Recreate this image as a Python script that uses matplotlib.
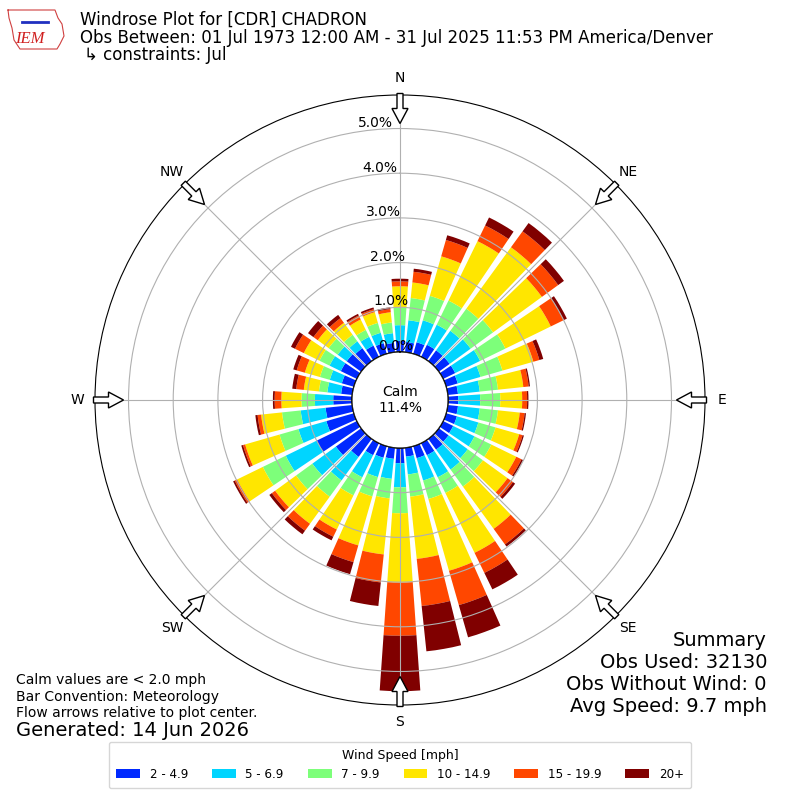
import numpy as np
import matplotlib
matplotlib.use("Agg")
import matplotlib.pyplot as plt
from matplotlib import patches
from matplotlib.lines import Line2D

# ---------------- data (percent of observations) ----------------
directions = np.arange(0, 360, 10)
speed_bins = ["2 - 4.9", "5 - 6.9", "7 - 9.9", "10 - 14.9", "15 - 19.9", "20+"]
spd_2_5 = [0.25, 0.23, 0.27, 0.30, 0.30, 0.30, 0.30, 0.27, 0.23, 0.23, 0.23, 0.25,
           0.25, 0.27, 0.30, 0.30, 0.28, 0.20, 0.34, 0.25, 0.27, 0.30, 0.50, 0.70,
           1.00, 0.64, 0.60, 0.42, 0.25, 0.28, 0.40, 0.40, 0.36, 0.28, 0.25, 0.21]
spd_5_7 = [0.35, 0.49, 0.51, 0.50, 0.54, 0.58, 0.62, 0.53, 0.49, 0.49, 0.49, 0.50,
           0.53, 0.53, 0.55, 0.55, 0.52, 0.40, 0.54, 0.45, 0.45, 0.55, 0.65, 0.65,
           0.77, 0.65, 0.56, 0.41, 0.31, 0.28, 0.28, 0.25, 0.19, 0.22, 0.24, 0.22]
spd_7_10 = [0.40, 0.50, 0.57, 0.60, 0.61, 0.62, 0.63, 0.51, 0.41, 0.45, 0.41, 0.40,
            0.42, 0.42, 0.47, 0.39, 0.43, 0.50, 0.58, 0.44, 0.45, 0.45, 0.45, 0.45,
            0.57, 0.44, 0.42, 0.30, 0.19, 0.23, 0.25, 0.25, 0.18, 0.17, 0.23, 0.24]
spd_10_15 = [0.47, 0.35, 0.92, 1.48, 1.70, 1.35, 1.13, 0.72, 0.57, 0.49, 0.49, 0.55,
             0.62, 0.68, 1.17, 1.49, 1.67, 1.40, 1.55, 1.26, 1.14, 0.85, 0.75, 0.58,
             0.64, 0.80, 0.47, 0.45, 0.34, 0.35, 0.39, 0.30, 0.33, 0.26, 0.25, 0.23]
spd_15_20 = [0.11, 0.24, 0.38, 0.39, 0.44, 0.45, 0.32, 0.14, 0.12, 0.11, 0.11, 0.08,
             0.13, 0.15, 0.43, 0.50, 0.80, 1.06, 1.19, 0.63, 0.39, 0.18, 0.19, 0.09,
             0.06, 0.05, 0.08, 0.15, 0.17, 0.19, 0.22, 0.12, 0.13, 0.10, 0.07, 0.07]
spd_20p = [0.06, 0.07, 0.11, 0.20, 0.23, 0.16, 0.08, 0.09, 0.03, 0.03, 0.03, 0.03,
           0.04, 0.06, 0.06, 0.41, 0.75, 1.02, 1.24, 0.53, 0.28, 0.09, 0.10, 0.07,
           0.04, 0.04, 0.05, 0.04, 0.09, 0.08, 0.10, 0.15, 0.09, 0.04, 0.04, 0.04]
series = [spd_2_5, spd_5_7, spd_7_10, spd_10_15, spd_15_20, spd_20p]
ring_values = [0, 1, 2, 3, 4, 5]
ring_labels = ["0.0%", "1.0%", "2.0%", "3.0%", "4.0%", "5.0%"]
compass = ["N", "NE", "E", "SE", "S", "SW", "W", "NW"]
calm_pct = 11.4

# ---------------- figure ----------------
fig = plt.figure(figsize=(8, 8), dpi=100)
ax = fig.add_axes([95 / 800, 95 / 800, 610 / 800, 610 / 800], projection="polar")
ax.set_theta_zero_location("N")
ax.set_theta_direction(-1)

colors = plt.get_cmap("jet")(np.linspace(0, 1, 7)[1:])
theta = np.deg2rad(directions)
width = np.deg2rad(8.0)
bottom = np.zeros(len(directions))
for vals, col, lab in zip(series, colors, speed_bins):
    vals = np.asarray(vals)
    ax.bar(theta, vals, width=width, bottom=bottom, color=col, label=lab,
           linewidth=0, zorder=1)
    bottom = bottom + vals

ax.set_rorigin(-1.074)
ax.set_ylim(0, 5.75)
ax.set_rgrids(ring_values, labels=[""] * len(ring_values))
lab_angle = np.deg2rad(-5)
for rv, rl in zip(ring_values, ring_labels):
    ax.text(lab_angle, rv + 0.14, rl, fontsize=10, ha="center", va="center", zorder=6)
ax.set_thetagrids(np.arange(0, 360, 45), labels=compass, fontsize=10)
ax.grid(True, color="#b0b0b0", linewidth=0.8)
ax.tick_params(axis="x", pad=2)

# calm circle
calm = patches.Circle((0.5, 0.5), 48 / 610, transform=ax.transAxes,
                      facecolor="white", edgecolor="black", linewidth=1, zorder=3)
ax.add_patch(calm)
ax.text(0.5, 0.5, "Calm\n%.1f%%" % calm_pct, transform=ax.transAxes,
        ha="center", va="center", fontsize=10, zorder=4)

# flow arrows on the rim
L = 30 / 610
for a in np.deg2rad(np.arange(0, 360, 45)):
    x0 = 0.5 + 0.5 * np.sin(a) + 1.5 / 610 * np.sin(a)
    y0 = 0.5 + 0.5 * np.cos(a) + 1.5 / 610 * np.cos(a)
    arr = patches.FancyArrow(x0, y0, -L * np.sin(a), -L * np.cos(a),
                             width=6 / 610, head_width=16 / 610, head_length=15 / 610,
                             length_includes_head=True, transform=ax.transAxes,
                             facecolor="white", edgecolor="black", linewidth=1,
                             zorder=5, clip_on=False)
    ax.add_patch(arr)

# titles
fig.text(80 / 800, 1 - 20 / 800, "Windrose Plot for [CDR] CHADRON", fontsize=12,
         ha="left", va="center")
fig.text(80 / 800, 1 - 38 / 800,
         "Obs Between: 01 Jul 1973 12:00 AM - 31 Jul 2025 11:53 PM America/Denver",
         fontsize=12, ha="left", va="center")
fig.text(84 / 800, 1 - 55 / 800, "\u21b3 constraints: Jul", fontsize=12,
         ha="left", va="center")

# logo (simple)
logo_x = np.array([8, 55, 58, 62, 64, 60, 57, 20, 14, 12, 9, 8])
logo_y = np.array([10, 10, 18, 24, 36, 44, 49, 49, 40, 28, 18, 10])
fig.add_artist(Line2D(logo_x / 800, 1 - logo_y / 800, color="#d04040", lw=0.8))
fig.text(30 / 800, 1 - 39 / 800, "IEM", fontsize=12, color="#d02020",
         family="Liberation Serif", style="italic", ha="center", va="center")
fig.add_artist(Line2D(np.array([22, 48]) / 800, 1 - np.array([22, 22]) / 800,
                      color="#2030c0", lw=2))

# summary
fig.text(767 / 800, 1 - 640 / 800, "Summary", fontsize=14, ha="right", va="center")
fig.text(767 / 800, 1 - 662 / 800, "Obs Used: 32130", fontsize=14, ha="right", va="center")
fig.text(767 / 800, 1 - 684 / 800, "Obs Without Wind: 0", fontsize=14, ha="right", va="center")
fig.text(767 / 800, 1 - 706 / 800, "Avg Speed: 9.7 mph", fontsize=14, ha="right", va="center")

fig.text(16 / 800, 1 - 680 / 800, "Calm values are < 2.0 mph", fontsize=10, ha="left", va="center")
fig.text(16 / 800, 1 - 697 / 800, "Bar Convention: Meteorology", fontsize=10, ha="left", va="center")
fig.text(16 / 800, 1 - 713 / 800, "Flow arrows relative to plot center.", fontsize=10,
         ha="left", va="center")
fig.text(16 / 800, 1 - 730 / 800, "Generated: 14 Jun 2026", fontsize=14, ha="left", va="center")

handles, labels = ax.get_legend_handles_labels()
fig.legend(handles, labels, loc="lower center", bbox_to_anchor=(0.5, 12 / 800),
           borderaxespad=0, ncol=6, title="Wind Speed [mph]", fontsize=8.6,
           title_fontsize=9, borderpad=0.6, frameon=True)

fig.savefig("out.png", dpi=100)
